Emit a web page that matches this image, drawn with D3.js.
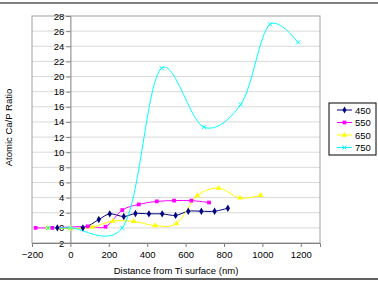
<!DOCTYPE html>
<html>
<head>
<meta charset="utf-8">
<script src="https://cdn.jsdelivr.net/npm/d3@7"></script>
<style>
  body { margin: 0; background: #fff; }
  text { font-family: "Liberation Sans", Arial, sans-serif; }
</style>
</head>
<body>
<div id="chart"></div>
<script>
// series
const seriesNames = ["450", "550", "650", "750"];
const x450 = [-68, 65, 148, 205, 278, 339, 409, 478, 548, 614, 682, 751, 820];
const y450 = [0, 0, 1.1, 1.85, 1.5, 1.9, 1.85, 1.85, 1.65, 2.2, 2.2, 2.2, 2.6];
const x550 = [-181, -94, 90, 183, 270, 356, 450, 540, 630, 722];
const y550 = [0, 0, 0.2, 0.15, 2.35, 3.1, 3.5, 3.6, 3.6, 3.35];
const x650 = [-118, 0, 113, 221, 330, 442, 552, 661, 772, 883, 991];
const y650 = [0, -0.1, 0.1, 0.9, 0.85, 0.3, 0.55, 4.25, 5.25, 3.95, 4.3];
const x750 = [-116, 0, 270, 475, 696, 887, 1040, 1186];
const y750 = [0, 0, 0, 21.1, 13.3, 16.3, 26.9, 24.5];
const xTicks = [-200, 0, 200, 400, 600, 800, 1000, 1200];
const yTicks = d3.range(-2, 29, 2);

const colors = ["#000080", "#ff00ff", "#ffff00", "#00ffff"];
const symbols = [d3.symbolDiamond, d3.symbolSquare, d3.symbolTriangle, "cross"];

const series = [
  { name: "450", xs: x450, ys: y450 },
  { name: "550", xs: x550, ys: y550 },
  { name: "650", xs: x650, ys: y650 },
  { name: "750", xs: x750, ys: y750 }
].map((s, i) => ({
  ...s, color: colors[i], symbol: symbols[i],
  points: s.xs.map((v, j) => [v, s.ys[j]])
}));

const svgWidth = 378;
const svgHeight = 285;
const margin = { top: 16, right: 58, bottom: 42, left: 32 };
const width = svgWidth - margin.left - margin.right;
const height = svgHeight - margin.top - margin.bottom;

const root = d3.select("#chart")
  .append("svg")
  .attr("width", svgWidth)
  .attr("height", svgHeight);

// frame lines top and bottom
root.append("line").attr("x1", 0).attr("x2", svgWidth).attr("y1", 3).attr("y2", 3)
  .style("stroke", "#808080").style("stroke-width", 2);
root.append("line").attr("x1", 0).attr("x2", svgWidth).attr("y1", 279).attr("y2", 279)
  .style("stroke", "#606060").style("stroke-width", 2);

const svg = root.append("g")
  .attr("transform", `translate(${margin.left},${margin.top})`);

const x = d3.scaleLinear().domain([-200, 1300]).range([0, width]);
const y = d3.scaleLinear().domain([-2, 28]).range([height, 0]);

// gridlines
svg.selectAll(".grid")
  .data(yTicks.filter(d => d > -2 && d < 28))
  .join("line")
  .attr("x1", 0).attr("x2", width)
  .attr("y1", d => y(d)).attr("y2", d => y(d))
  .style("stroke", "#d9d9d9").style("stroke-width", 1);

// plot area border
svg.append("rect")
  .attr("x", 0).attr("y", 0).attr("width", width).attr("height", height)
  .style("fill", "none").style("stroke", "#a0a0a0");

// y axis at x = 0
const yAxis = svg.append("g")
  .attr("transform", `translate(${x(0)},0)`)
  .call(d3.axisLeft(y).tickValues(yTicks).tickSize(4).tickPadding(2));
yAxis.select(".domain").style("stroke", "#808080");
yAxis.selectAll("line").style("stroke", "#808080");
yAxis.selectAll("text").style("font-size", "9.5px").style("fill", "#000");

// x axis at bottom
const xAxis = svg.append("g")
  .attr("transform", `translate(0,${height})`)
  .call(d3.axisBottom(x).tickValues(xTicks).tickFormat(d3.format("d")).tickSize(4).tickPadding(4));
xAxis.select(".domain").style("stroke", "#808080");
xAxis.selectAll("line").style("stroke", "#808080");
xAxis.selectAll("text").style("font-size", "9.5px").style("fill", "#000");

// titles
svg.append("text")
  .attr("x", width / 2).attr("y", height + 31)
  .style("text-anchor", "middle").style("font-size", "9.5px")
  .text("Distance from Ti surface (nm)");
svg.append("text")
  .attr("transform", `translate(${-20},${height / 2 - 2}) rotate(-90)`)
  .style("text-anchor", "middle").style("font-size", "9.5px")
  .text("Atomic Ca/P Ratio");

const line = d3.line()
  .x(d => x(d[0]))
  .y(d => y(d[1]))
  .curve(d3.curveCatmullRom.alpha(0.2));

function drawMarker(g, s, size) {
  if (s.symbol === "cross") {
    g.append("path")
      .attr("d", `M-2,-2L2,2M-2,2L2,-2`)
      .style("stroke", s.color).style("fill", "none").style("stroke-width", 1);
  } else {
    g.append("path")
      .attr("d", d3.symbol().type(s.symbol).size(size)())
      .style("fill", s.color).style("stroke", "none");
  }
}

series.forEach(s => {
  svg.append("path")
    .attr("d", line(s.points))
    .style("fill", "none")
    .style("stroke", s.color)
    .style("stroke-width", 1);
});

series.forEach(s => {
  s.points.forEach(p => {
    const g = svg.append("g").attr("transform", `translate(${x(p[0])},${y(p[1])})`);
    drawMarker(g, s, s.symbol === d3.symbolDiamond ? 16 : 14);
  });
});

// legend
const legend = root.append("g").attr("transform", "translate(329,103)");
legend.append("rect")
  .attr("x", 0).attr("y", 0).attr("width", 47).attr("height", 52)
  .style("fill", "#fff").style("stroke", "#000").style("stroke-width", 1);
series.forEach((s, i) => {
  const row = legend.append("g").attr("transform", `translate(0,${7 + i * 12.5})`);
  row.append("line").attr("x1", 8).attr("x2", 23).attr("y1", 0).attr("y2", 0)
    .style("stroke", s.color);
  const m = row.append("g").attr("transform", "translate(15.5,0)");
  drawMarker(m, s, 14);
  row.append("text").attr("x", 26).attr("y", 3.5)
    .style("font-size", "9.5px").text(s.name);
});
</script>
</body>
</html>
